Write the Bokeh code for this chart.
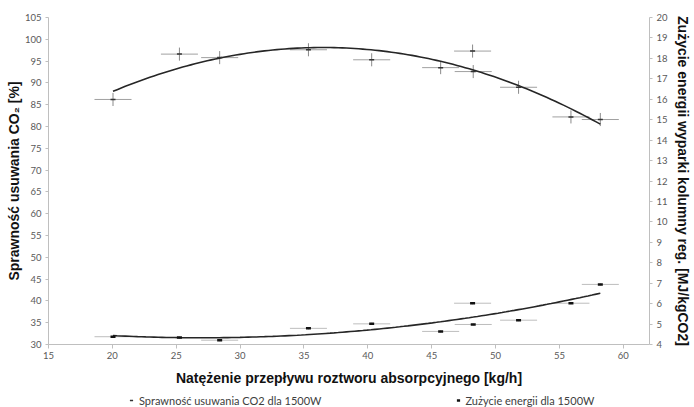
import numpy as np
from bokeh.plotting import figure
from bokeh.layouts import column
from bokeh.models import (Range1d, LinearAxis, SingleIntervalTicker, Legend,
                          LegendItem, ColumnDataSource)
from bokeh.embed import file_html
from bokeh.resources import INLINE

# ---- data ----
flow = [20.05, 25.25, 28.4, 35.35, 40.3, 45.7, 48.2, 48.25, 51.8, 55.9, 58.2]
efficiency = [86.2, 96.6, 95.8, 97.6, 95.3, 93.5, 97.3, 92.6, 89.0, 82.2, 81.6]
energy = [4.38, 4.34, 4.21, 4.79, 5.01, 4.64, 6.02, 4.98, 5.19, 6.02, 6.94]
flow_err = [1.45] * 11
eff_err = [1.5] * 11
energy_err = [0.05] * 11

label_eff = "Sprawność usuwania CO2 dla 1500W"
label_energy = "Zużycie energii dla 1500W"
x_title = "Natężenie przepływu roztworu absorpcyjnego [kg/h]"
y_title = "Sprawność usuwania CO₂ [%]"
y2_title = "Zużycie energii wyparki kolumny reg. [MJ/kgCO2]"

# ---- derived tables ----
fx = np.array(flow)
fe = np.array(flow_err)
eff = np.array(efficiency)
en = np.array(energy)

src_eff = ColumnDataSource(dict(x=fx, y=eff, x0=fx - fe, x1=fx + fe,
                                y0=eff - np.array(eff_err), y1=eff + np.array(eff_err)))
src_en = ColumnDataSource(dict(x=fx, y=en, x0=fx - fe, x1=fx + fe,
                               y0=en - np.array(energy_err), y1=en + np.array(energy_err)))

xs = np.linspace(fx.min(), fx.max(), 120)
trend_eff = np.polyval(np.polyfit(fx, eff, 2), xs)
trend_en = np.polyval(np.polyfit(fx, en, 2), xs)

TICK_FONT = "Lato"
TITLE_FONT = "Liberation Sans"
AX_COLOR = "#bfbfbf"
LBL_COLOR = "#595959"
EFF_MARK = dict(marker="dash", size=5, line_color="#333333", line_width=1.5)
EN_MARK = dict(marker="dash", size=5, line_color="#111111", line_width=2.5)

p = figure(width=694, height=391, output_backend="svg", toolbar_location=None,
           x_range=Range1d(15, 62.05), y_range=Range1d(30, 105),
           min_border_left=48, min_border_right=45, min_border_top=17,
           min_border_bottom=47, x_axis_location=None, y_axis_location=None)
p.outline_line_color = None
p.xgrid.visible = False
p.ygrid.visible = False
p.extra_y_ranges = {"energy": Range1d(4, 20)}


def style(ax, interval):
    ax.ticker = SingleIntervalTicker(interval=interval)
    ax.minor_tick_line_color = None
    ax.axis_line_color = AX_COLOR
    ax.major_tick_line_color = AX_COLOR
    ax.major_tick_out = 3
    ax.major_tick_in = 0
    ax.major_label_text_font = TICK_FONT
    ax.major_label_text_font_size = "9.5px"
    ax.major_label_text_color = LBL_COLOR
    ax.axis_label_text_font = TITLE_FONT
    ax.axis_label_text_font_style = "bold"
    ax.axis_label_text_font_size = "14px"
    ax.axis_label_text_color = "#111111"


xax = LinearAxis(axis_label=x_title)
style(xax, 5)
xax.major_tick_out = 4
xax.major_label_standoff = 3
xax.axis_label_standoff = 8
p.add_layout(xax, "below")

yax = LinearAxis(axis_label=y_title)
style(yax, 5)
yax.major_label_standoff = 3
yax.axis_label_standoff = 0
p.add_layout(yax, "left")

y2ax = LinearAxis(axis_label=y2_title, y_range_name="energy")
style(y2ax, 1)
y2ax.major_label_standoff = 3
y2ax.axis_label_standoff = 4
p.add_layout(y2ax, "right")

# error bars
p.segment("x0", "y", "x1", "y", source=src_eff, line_color="#a0a0a0", line_width=1)
p.segment("x", "y0", "x", "y1", source=src_eff, line_color="#8a8a8a", line_width=1)
p.segment("x0", "y", "x1", "y", source=src_en, line_color="#bdbdbd", line_width=1,
          y_range_name="energy")
p.segment("x", "y0", "x", "y1", source=src_en, line_color="#9a9a9a", line_width=1,
          y_range_name="energy")

# trend lines
p.line(xs, trend_eff, line_color="#262626", line_width=1.6)
p.line(xs, trend_en, line_color="#262626", line_width=1.6, y_range_name="energy")

# markers
p.scatter("x", "y", source=src_eff, **EFF_MARK)
p.scatter("x", "y", source=src_en, y_range_name="energy", **EN_MARK)

# ---- legend strip below the chart (its ranges keep the points out of view) ----
q = figure(width=694, height=16, output_backend="svg", toolbar_location=None,
           x_range=Range1d(0, 1), y_range=Range1d(0, 1),
           min_border=0, x_axis_location=None, y_axis_location=None)
q.outline_line_color = None
q.xgrid.visible = False
q.ygrid.visible = False
k_eff = q.scatter("x", "y", source=src_eff, **EFF_MARK)
k_en = q.scatter("x", "y", source=src_en, **EN_MARK)

lg = Legend(items=[LegendItem(label=label_eff, renderers=[k_eff]),
                   LegendItem(label=label_energy, renderers=[k_en])],
            location=(79, 0), orientation="horizontal")
lg.label_text_font = TICK_FONT
lg.label_text_font_size = "11px"
lg.label_text_color = "#404040"
lg.glyph_width = 8
lg.glyph_height = 14
lg.label_height = 14
lg.label_standoff = 4
lg.padding = 0
lg.margin = 0
lg.spacing = 132
lg.border_line_alpha = 0
lg.background_fill_alpha = 0
q.add_layout(lg, "center")

layout = column(p, q, spacing=0)
open("out.html", "w").write(file_html(layout, INLINE))
